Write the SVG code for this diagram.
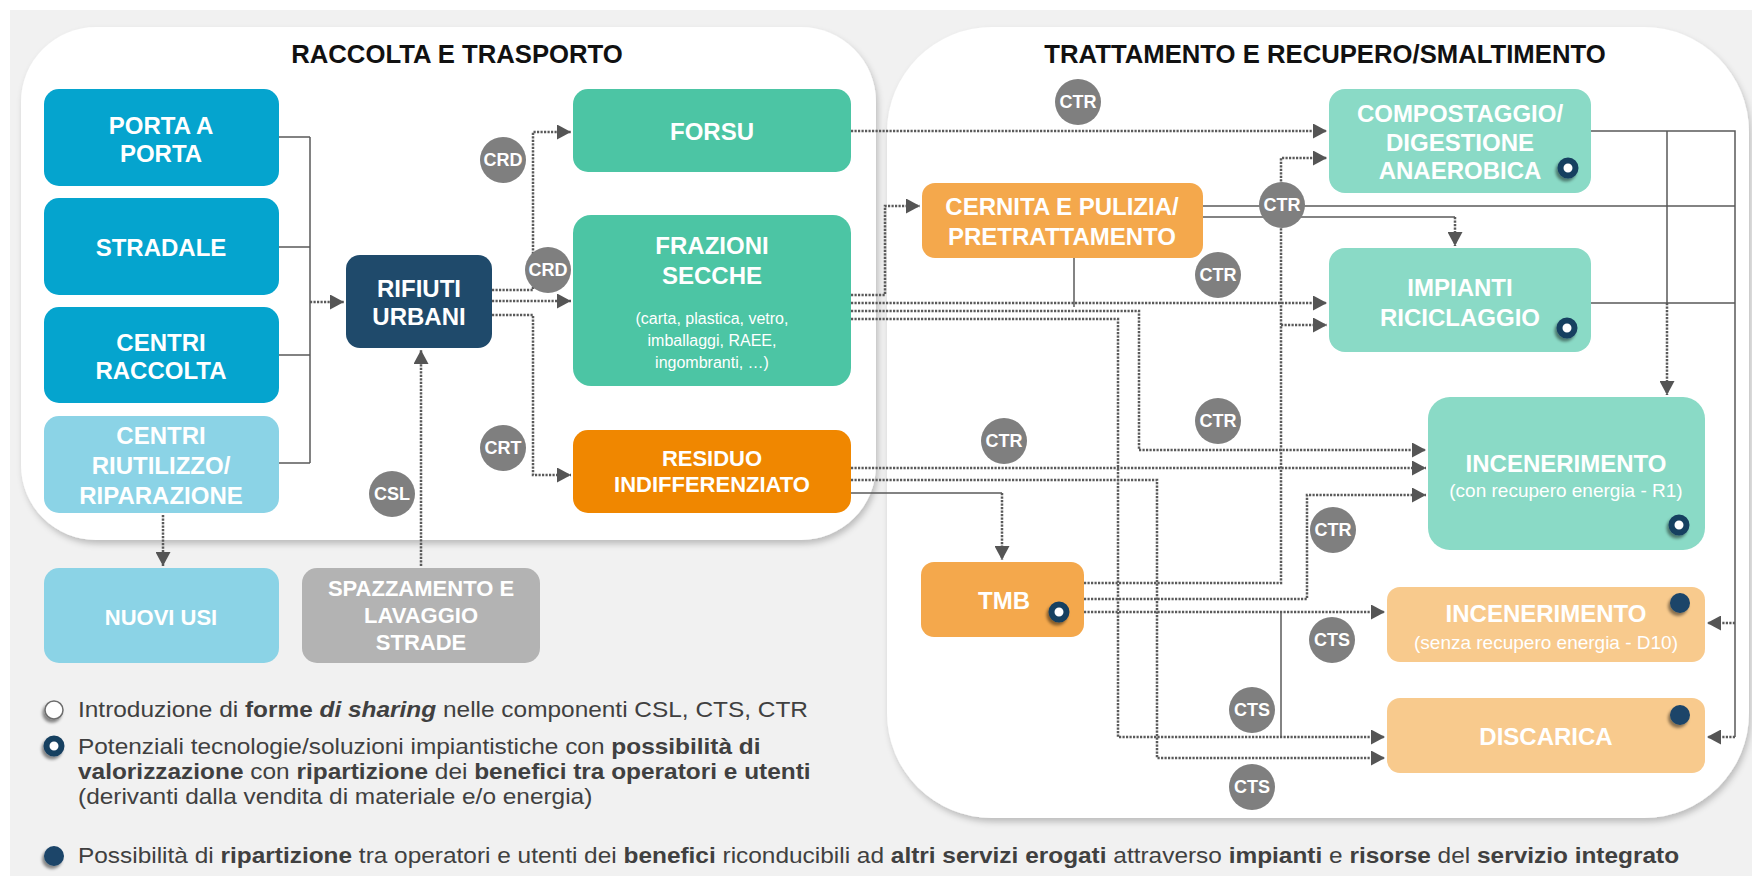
<svg xmlns="http://www.w3.org/2000/svg" width="1752" height="876" viewBox="0 0 1752 876">
<defs>
<style>
.lbl{font-family:"Liberation Sans",Arial,sans-serif;font-weight:bold;fill:#fff;text-anchor:middle;font-size:24px}
.l22{font-size:22px}
.sub{font-family:"Liberation Sans",Arial,sans-serif;fill:#fff;text-anchor:middle;font-size:16px}
.sub19{font-family:"Liberation Sans",Arial,sans-serif;fill:#fff;text-anchor:middle;font-size:19px}
.hdr{font-family:"Liberation Sans",Arial,sans-serif;font-weight:bold;fill:#111;text-anchor:middle;font-size:25.7px}
.tag circle{fill:#7f7f7f}
.tag text{font-family:"Liberation Sans",Arial,sans-serif;font-weight:bold;fill:#fff;text-anchor:middle;font-size:18px}
.dot{fill:none;stroke:#5a5a5a;stroke-width:2.5;stroke-dasharray:2.2 1.3}
.sol{fill:none;stroke:#5a5a5a;stroke-width:1.5}
.arr{marker-end:url(#ah)}
.leg{font-family:"Liberation Sans",Arial,sans-serif;font-size:22px;fill:#404040}
.b{font-weight:bold}
.blue{fill:#05A4CE}
.lblue{fill:#8BD3E6}
.navy{fill:#1F4A6B}
.green{fill:#4CC5A4}
.orange{fill:#F08700}
.lorange{fill:#F4A84C}
.teal{fill:#8ADAC6}
.peach{fill:#F8CA8D}
.gray{fill:#B3B3B3}
</style>
<marker id="ah" markerWidth="14" markerHeight="15" refX="14" refY="7.5" orient="auto" markerUnits="userSpaceOnUse"><path d="M0,0 L14,7.5 L0,15 z" fill="#555"/></marker>
<filter id="psh" x="-5%" y="-5%" width="110%" height="115%"><feDropShadow dx="2" dy="4" stdDeviation="3" flood-color="#000" flood-opacity="0.22"/></filter>
<filter id="ish" x="-60%" y="-60%" width="220%" height="220%"><feDropShadow dx="-2" dy="3" stdDeviation="1.5" flood-color="#000" flood-opacity="0.45"/></filter>
<g id="ring"><circle r="7.5" fill="#fff" stroke="#173F60" stroke-width="6" filter="url(#ish)"/></g>
<g id="fdot"><circle r="10" fill="#1B4469" filter="url(#ish)"/></g>
</defs>

<rect x="0" y="0" width="1752" height="876" fill="#fff"/>
<rect x="10" y="10" width="1742" height="866" fill="#F1F1F1"/>

<g id="panels">
<rect x="21" y="27" width="855" height="513" rx="75" fill="#fff" filter="url(#psh)"/>
<rect x="887" y="27" width="862" height="791" rx="105" fill="#fff" filter="url(#psh)"/>
<text class="hdr" x="457" y="63">RACCOLTA E TRASPORTO</text>
<text class="hdr" x="1325" y="63">TRATTAMENTO E RECUPERO/SMALTIMENTO</text>
</g>

<g id="connectors">
<path class="sol" d="M279,137H310M279,247H310M279,355H310M279,463H310M310,137V463"/>
<path class="dot arr" d="M310,302H344"/>
<path class="dot arr" d="M492,290H533V132H571"/>
<path class="dot arr" d="M492,301H571"/>
<path class="dot arr" d="M492,315H533V475H571"/>
<path class="dot arr" d="M421,566V350"/>
<path class="dot arr" d="M163,515V566"/>
<path class="dot arr" d="M851,131H1327"/>
<path class="dot arr" d="M851,295H885V206H920"/>
<path class="dot arr" d="M851,303H1327"/>
<path class="dot arr" d="M851,311H1139V450H1426"/>
<path class="dot arr" d="M851,319H1118V737H1385"/>
<path class="dot arr" d="M851,468H1426"/>
<path class="dot arr" d="M851,480H1157V758H1385"/>
<path class="sol" d="M851,493H1002"/>
<path class="dot arr" d="M1002,493V560"/>
<path class="sol" d="M1203,206H1735"/>
<path class="sol" d="M1203,217H1455"/>
<path class="dot arr" d="M1455,217V246"/>
<path class="sol" d="M1074,258V307"/>
<path class="dot arr" d="M1084,583H1281V158H1327"/>
<path class="dot arr" d="M1281,325H1327"/>
<path class="dot arr" d="M1084,599H1307V495H1426"/>
<path class="dot arr" d="M1084,612H1385"/>
<path class="sol" d="M1281,612V737"/>
<path class="sol" d="M1591,131H1735V737M1591,303H1735M1667,131V303"/>
<path class="dot arr" d="M1667,303V395"/>
<path class="dot arr" d="M1735,623H1707"/>
<path class="dot arr" d="M1735,737H1707"/>
</g>

<g id="porta"><rect class="blue" x="44" y="89" width="235" height="97" rx="15"/><text class="lbl" x="161" y="134">PORTA A</text><text class="lbl" x="161" y="162">PORTA</text></g>
<g id="stradale"><rect class="blue" x="44" y="198" width="235" height="97" rx="15"/><text class="lbl" x="161" y="256">STRADALE</text></g>
<g id="centri-raccolta"><rect class="blue" x="44" y="307" width="235" height="96" rx="15"/><text class="lbl" x="161" y="351">CENTRI</text><text class="lbl" x="161" y="379">RACCOLTA</text></g>
<g id="centri-riutilizzo"><rect class="lblue" x="44" y="416" width="235" height="97" rx="15"/><text class="lbl" x="161" y="444">CENTRI</text><text class="lbl" x="161" y="474">RIUTILIZZO/</text><text class="lbl" x="161" y="504">RIPARAZIONE</text></g>
<g id="nuovi-usi"><rect class="lblue" x="44" y="568" width="235" height="95" rx="15"/><text class="lbl l22" x="161" y="625">NUOVI USI</text></g>
<g id="spazzamento"><rect class="gray" x="302" y="568" width="238" height="95" rx="15"/><text class="lbl l22" x="421" y="596">SPAZZAMENTO E</text><text class="lbl l22" x="421" y="623">LAVAGGIO</text><text class="lbl l22" x="421" y="650">STRADE</text></g>
<g id="rifiuti-urbani"><rect class="navy" x="346" y="255" width="146" height="93" rx="14"/><text class="lbl" x="419" y="297">RIFIUTI</text><text class="lbl" x="419" y="325">URBANI</text></g>
<g id="forsu"><rect class="green" x="573" y="89" width="278" height="83" rx="15"/><text class="lbl" x="712" y="140">FORSU</text></g>
<g id="frazioni"><rect class="green" x="573" y="215" width="278" height="171" rx="18"/><text class="lbl" x="712" y="254">FRAZIONI</text><text class="lbl" x="712" y="284">SECCHE</text><text class="sub" x="712" y="324">(carta, plastica, vetro,</text><text class="sub" x="712" y="346">imballaggi, RAEE,</text><text class="sub" x="712" y="368">ingombranti, …)</text></g>
<g id="residuo"><rect class="orange" x="573" y="430" width="278" height="83" rx="15"/><text class="lbl l22" x="712" y="466">RESIDUO</text><text class="lbl l22" x="712" y="492">INDIFFERENZIATO</text></g>
<g id="cernita"><rect class="lorange" x="922" y="183" width="281" height="75" rx="13"/><text class="lbl" x="1062" y="215">CERNITA E PULIZIA/</text><text class="lbl" x="1062" y="245">PRETRATTAMENTO</text></g>
<g id="tmb"><rect class="lorange" x="921" y="562" width="163" height="75" rx="13"/><text class="lbl" x="1004" y="609">TMB</text><use href="#ring" x="1059" y="612"/></g>
<g id="compostaggio"><rect class="teal" x="1329" y="89" width="262" height="104" rx="16"/><text class="lbl" x="1460" y="122">COMPOSTAGGIO/</text><text class="lbl" x="1460" y="151">DIGESTIONE</text><text class="lbl" x="1460" y="179">ANAEROBICA</text><use href="#ring" x="1568" y="168"/></g>
<g id="impianti"><rect class="teal" x="1329" y="248" width="262" height="104" rx="16"/><text class="lbl" x="1460" y="296">IMPIANTI</text><text class="lbl" x="1460" y="326">RICICLAGGIO</text><use href="#ring" x="1567" y="328"/></g>
<g id="incenerimento-r1"><rect class="teal" x="1428" y="397" width="277" height="153" rx="22"/><text class="lbl" x="1566" y="472">INCENERIMENTO</text><text class="sub19" x="1566" y="497">(con recupero energia - R1)</text><use href="#ring" x="1679" y="525"/></g>
<g id="incenerimento-d10"><rect class="peach" x="1387" y="587" width="318" height="75" rx="13"/><text class="lbl" x="1546" y="622">INCENERIMENTO</text><text class="sub19" x="1546" y="649">(senza recupero energia - D10)</text><use href="#fdot" x="1680" y="603"/></g>
<g id="discarica"><rect class="peach" x="1387" y="698" width="318" height="75" rx="13"/><text class="lbl" x="1546" y="745">DISCARICA</text><use href="#fdot" x="1680" y="715"/></g>

<g id="tags">
<g class="tag"><circle cx="503" cy="160" r="23"/><text x="503" y="166">CRD</text></g>
<g class="tag"><circle cx="548" cy="270" r="23"/><text x="548" y="276">CRD</text></g>
<g class="tag"><circle cx="503" cy="448" r="23"/><text x="503" y="454">CRT</text></g>
<g class="tag"><circle cx="392" cy="494" r="23"/><text x="392" y="500">CSL</text></g>
<g class="tag"><circle cx="1078" cy="102" r="23"/><text x="1078" y="108">CTR</text></g>
<g class="tag"><circle cx="1282" cy="205" r="23"/><text x="1282" y="211">CTR</text></g>
<g class="tag"><circle cx="1218" cy="275" r="23"/><text x="1218" y="281">CTR</text></g>
<g class="tag"><circle cx="1004" cy="441" r="23"/><text x="1004" y="447">CTR</text></g>
<g class="tag"><circle cx="1218" cy="421" r="23"/><text x="1218" y="427">CTR</text></g>
<g class="tag"><circle cx="1333" cy="530" r="23"/><text x="1333" y="536">CTR</text></g>
<g class="tag"><circle cx="1332" cy="640" r="23"/><text x="1332" y="646">CTS</text></g>
<g class="tag"><circle cx="1252" cy="710" r="23"/><text x="1252" y="716">CTS</text></g>
<g class="tag"><circle cx="1252" cy="787" r="23"/><text x="1252" y="793">CTS</text></g>
</g>

<g id="legend">
<circle cx="54" cy="710" r="9" fill="#fff" stroke="#6d6d6d" stroke-width="1.5" filter="url(#ish)"/>
<use href="#ring" x="54" y="746"/>
<use href="#fdot" x="54" y="856"/>
<g transform="translate(78,0) scale(1.11,1)">
<text class="leg" x="0" y="717">Introduzione di <tspan class="b">forme </tspan><tspan class="b" font-style="italic">di sharing</tspan> nelle componenti CSL, CTS, CTR</text>
<text class="leg" x="0" y="754">Potenziali tecnologie/soluzioni impiantistiche con <tspan class="b">possibilità di</tspan></text>
<text class="leg" x="0" y="779"><tspan class="b">valorizzazione</tspan> con <tspan class="b">ripartizione</tspan> dei <tspan class="b">benefici tra operatori e utenti</tspan></text>
<text class="leg" x="0" y="804">(derivanti dalla vendita di materiale e/o energia)</text>
<text class="leg" x="0" y="863">Possibilità di <tspan class="b">ripartizione</tspan> tra operatori e utenti dei <tspan class="b">benefici</tspan> riconducibili ad <tspan class="b">altri servizi erogati</tspan> attraverso <tspan class="b">impianti</tspan> e <tspan class="b">risorse</tspan> del <tspan class="b">servizio integrato</tspan></text>
</g>
</g>
</svg>
